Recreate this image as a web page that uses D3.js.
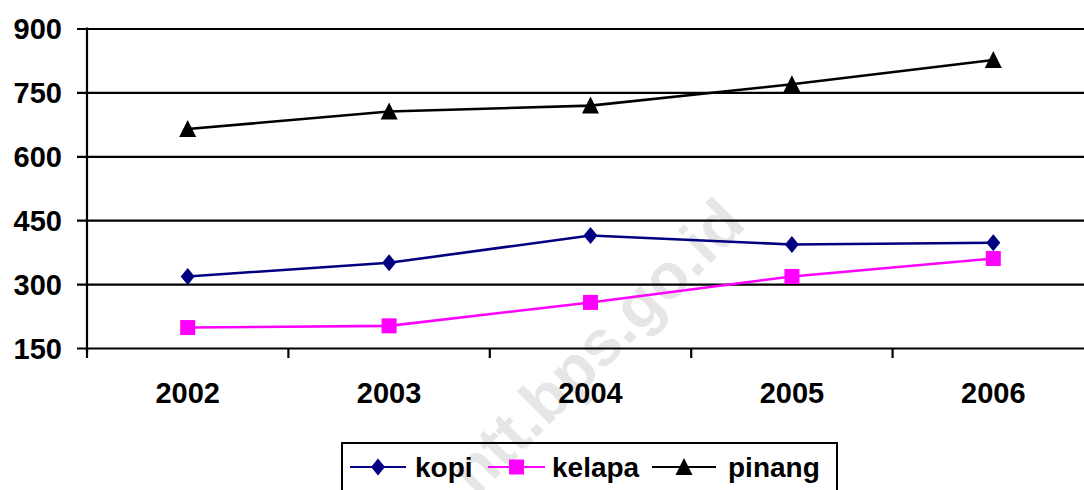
<!DOCTYPE html>
<html lang="en">
<head>
<meta charset="utf-8">
<script src="https://d3js.org/d3.v7.min.js"></script>
<style type="text/css">
body {
	margin: 0;
	background-color: #ffffff;
	font-family: "Liberation Sans", Arial, sans-serif;
}
svg text {
	font-family: "Liberation Sans", Arial, sans-serif;
	font-weight: bold;
}
</style>
</head>
<body>
<div id="chart"></div>
<script type="text/javascript">

	// data
	var years = ["2002", "2003", "2004", "2005", "2006"];
	var kopi = [318, 350, 414, 393, 397];
	var kelapa = [198, 202, 257, 318, 360];
	var pinang = [664, 705, 719, 769, 826];
	var yTicks = [150, 300, 450, 600, 750, 900];

	var width = 1084;
	var height = 490;

	// plot box
	var pLeft = 87, pRight = 1094, pTop = 28.5, pBottom = 348;

	var svg = d3.select("#chart")
	  .append("svg")
	  .attr("width", width)
	  .attr("height", height);

	// watermark
	svg.append("text")
	  .attr("transform", "translate(600,350) rotate(-45)")
	  .attr("text-anchor", "middle")
	  .attr("dominant-baseline", "middle")
	  .style("font-size", "64px")
	  .style("fill", "#e6e6e6")
	  .text("ntt.bps.go.id");

	var x = d3.scaleBand()
	  .domain(years)
	  .range([pLeft, pRight])
	  .padding(0);

	var y = d3.scaleLinear()
	  .domain([150, 900])
	  .range([pBottom, pTop]);

	var cx = function(d, i) { return x(years[i]) + x.bandwidth() / 2; };

	// gridlines + y axis
	var yAxis = svg.append("g")
	  .attr("transform", "translate(" + pLeft + ",0)")
	  .call(d3.axisLeft(y)
	    .tickValues(yTicks)
	    .tickSize(-(width - pLeft))
	    .tickPadding(0)
	    .tickFormat(d3.format("d")));
	yAxis.select(".domain").remove();
	yAxis.selectAll(".tick line")
	  .attr("x1", -10)
	  .attr("stroke", "#000")
	  .attr("stroke-width", 2.2);
	yAxis.selectAll(".tick text")
	  .attr("x", -25)
	  .attr("dy", "0.36em")
	  .style("font-size", "29px")
	  .style("fill", "#000");

	svg.append("line")
	  .attr("x1", pLeft).attr("x2", pLeft)
	  .attr("y1", pTop - 1).attr("y2", pBottom + 4)
	  .attr("stroke", "#000")
	  .attr("stroke-width", 2.2);

	// x axis: ticks at band edges
	var edges = years.map(function(d) { return x(d); }).concat([x(years[years.length - 1]) + x.bandwidth()]);
	svg.selectAll(".xtick")
	  .data(edges)
	  .enter()
	  .append("line")
	  .attr("class", "xtick")
	  .attr("x1", function(d) { return d; })
	  .attr("x2", function(d) { return d; })
	  .attr("y1", pBottom)
	  .attr("y2", pBottom + 10)
	  .attr("stroke", "#000")
	  .attr("stroke-width", 2.2);

	svg.selectAll(".xlabel")
	  .data(years)
	  .enter()
	  .append("text")
	  .attr("class", "xlabel")
	  .attr("x", function(d) { return x(d) + x.bandwidth() / 2; })
	  .attr("y", 403)
	  .attr("text-anchor", "middle")
	  .style("font-size", "29px")
	  .text(function(d) { return d; });

	// series
	var series = [
	  { name: "kopi", values: kopi, color: "#000080", shape: "diamond" },
	  { name: "kelapa", values: kelapa, color: "#ff00ff", shape: "square" },
	  { name: "pinang", values: pinang, color: "#000000", shape: "triangle" }
	];

	function marker(g, shape, color) {
	  if (shape === "diamond") {
	    g.append("path").attr("d", "M0,-8.5L7,0L0,8.5L-7,0Z").attr("fill", color);
	  } else if (shape === "square") {
	    g.append("rect").attr("x", -7.5).attr("y", -7.5).attr("width", 15).attr("height", 15).attr("fill", color);
	  } else {
	    g.append("path").attr("d", "M0,-9L8.5,8L-8.5,8Z").attr("fill", color);
	  }
	}

	var line = d3.line()
	  .x(cx)
	  .y(function(d) { return y(d); });

	series.forEach(function(s) {
	  svg.append("path")
	    .datum(s.values)
	    .attr("d", line)
	    .attr("fill", "none")
	    .attr("stroke", s.color)
	    .attr("stroke-width", 2.6);

	  s.values.forEach(function(v, i) {
	    var g = svg.append("g")
	      .attr("transform", "translate(" + cx(v, i) + "," + y(v) + ")");
	    marker(g, s.shape, s.color);
	  });
	});

	// legend
	svg.append("rect")
	  .attr("x", 342)
	  .attr("y", 443)
	  .attr("width", 495)
	  .attr("height", 60)
	  .attr("fill", "none")
	  .attr("stroke", "#000")
	  .attr("stroke-width", 2);

	var legendPos = [
	  { x1: 350, x2: 406, text: 415 },
	  { x1: 488, x2: 545, text: 552 },
	  { x1: 652, x2: 716, text: 728 }
	];
	var ly = 467;
	series.forEach(function(s, i) {
	  var p = legendPos[i];
	  svg.append("line")
	    .attr("x1", p.x1).attr("x2", p.x2)
	    .attr("y1", ly).attr("y2", ly)
	    .attr("stroke", s.color)
	    .attr("stroke-width", 2.2);
	  var g = svg.append("g")
	    .attr("transform", "translate(" + ((p.x1 + p.x2) / 2) + "," + ly + ")");
	  marker(g, s.shape, s.color);
	  svg.append("text")
	    .attr("x", p.text)
	    .attr("y", 477)
	    .style("font-size", "28px")
	    .text(s.name);
	});

</script>
</body>
</html>
